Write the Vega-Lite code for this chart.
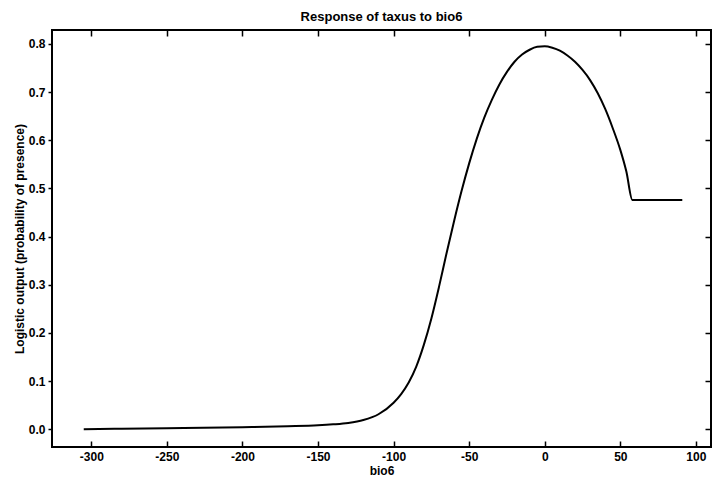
{
  "$schema": "https://vega.github.io/schema/vega-lite/v6.json",
  "width": 659,
  "height": 417,
  "autosize": {"type": "none"},
  "padding": {"left": 52, "top": 30, "right": 2, "bottom": 44},
  "background": "white",
  "title": {"text": "Response of taxus to bio6", "font": "Liberation Sans", "fontSize": 13, "fontWeight": "bold", "color": "black", "offset": 5},
  "config": {
    "view": {"stroke": "black", "strokeWidth": 2},
    "axis": {"domain": false, "grid": false, "labelFont": "Liberation Sans", "labelFontWeight": "bold", "labelFontSize": 12, "labelColor": "black", "titleFont": "Liberation Sans", "titleFontWeight": "bold", "titleFontSize": 12, "titleColor": "black", "tickColor": "black", "tickWidth": 1.5}
  },
  "data": {"values": [
    {"bio6": -305, "p": 0.0},
    {"bio6": -280, "p": 0.001},
    {"bio6": -250, "p": 0.002},
    {"bio6": -200, "p": 0.004},
    {"bio6": -170, "p": 0.006},
    {"bio6": -150, "p": 0.008},
    {"bio6": -140, "p": 0.01},
    {"bio6": -130, "p": 0.013},
    {"bio6": -120, "p": 0.019},
    {"bio6": -110, "p": 0.031},
    {"bio6": -100, "p": 0.055},
    {"bio6": -95, "p": 0.073},
    {"bio6": -90, "p": 0.097},
    {"bio6": -85, "p": 0.13},
    {"bio6": -80, "p": 0.175},
    {"bio6": -75, "p": 0.23},
    {"bio6": -70, "p": 0.295},
    {"bio6": -65, "p": 0.365},
    {"bio6": -60, "p": 0.432},
    {"bio6": -55, "p": 0.495},
    {"bio6": -50, "p": 0.552},
    {"bio6": -45, "p": 0.603},
    {"bio6": -40, "p": 0.647},
    {"bio6": -35, "p": 0.684},
    {"bio6": -30, "p": 0.716},
    {"bio6": -25, "p": 0.742},
    {"bio6": -20, "p": 0.763},
    {"bio6": -15, "p": 0.778},
    {"bio6": -10, "p": 0.788},
    {"bio6": -5, "p": 0.794},
    {"bio6": 0, "p": 0.795},
    {"bio6": 5, "p": 0.792},
    {"bio6": 10, "p": 0.786},
    {"bio6": 15, "p": 0.776},
    {"bio6": 20, "p": 0.763},
    {"bio6": 25, "p": 0.746},
    {"bio6": 30, "p": 0.725},
    {"bio6": 35, "p": 0.698},
    {"bio6": 40, "p": 0.665},
    {"bio6": 45, "p": 0.625},
    {"bio6": 50, "p": 0.58},
    {"bio6": 54, "p": 0.535},
    {"bio6": 58, "p": 0.476},
    {"bio6": 75, "p": 0.476},
    {"bio6": 91, "p": 0.476}
  ]},
  "layer": [
    {
      "mark": {"type": "line", "color": "black", "strokeWidth": 2, "interpolate": "monotone"},
      "encoding": {
        "x": {"field": "bio6", "type": "quantitative", "title": "bio6",
              "scale": {"domain": [-326, 110], "nice": false, "zero": false},
              "axis": {"orient": "bottom", "values": [-300, -250, -200, -150, -100, -50, 0, 50, 100], "labelExpr": "toString(datum.value)", "tickSize": -6, "labelPadding": 10, "titlePadding": 3}},
        "y": {"field": "p", "type": "quantitative", "title": "Logistic output (probability of presence)",
              "scale": {"domain": [-0.037, 0.829], "nice": false, "zero": false},
              "axis": {"orient": "left", "values": [0, 0.1, 0.2, 0.3, 0.4, 0.5, 0.6, 0.7, 0.8], "format": ".1f", "tickSize": 4, "labelPadding": 3, "titlePadding": 2}}
      }
    },
    {
      "mark": {"type": "line", "opacity": 0},
      "encoding": {
        "x": {"field": "bio6", "type": "quantitative",
              "scale": {"domain": [-326, 110], "nice": false, "zero": false},
              "axis": {"orient": "top", "values": [-300, -250, -200, -150, -100, -50, 0, 50, 100], "labels": false, "title": null, "tickSize": -6}},
        "y": {"field": "p", "type": "quantitative",
              "scale": {"domain": [-0.037, 0.829], "nice": false, "zero": false},
              "axis": {"orient": "right", "values": [0, 0.1, 0.2, 0.3, 0.4, 0.5, 0.6, 0.7, 0.8], "labels": false, "title": null, "tickSize": -6}}
      }
    }
  ],
  "resolve": {"axis": {"x": "independent", "y": "independent"}}
}
